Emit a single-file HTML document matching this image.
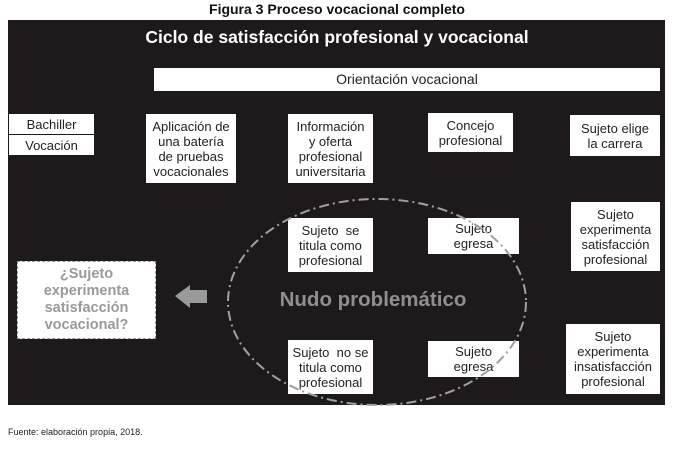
<!DOCTYPE html>
<html><head><meta charset="utf-8"><style>
body{margin:0;width:674px;height:449px;background:#fff;position:relative;font-family:"Liberation Sans",sans-serif;overflow:hidden}
.t{position:absolute;left:0;width:674px;top:1px;text-align:center;font-weight:bold;font-size:14px;color:#111}
.bg{position:absolute;left:8px;top:20px;width:657px;height:385px;background:#1e1a1c}
.b{position:absolute;background:#fff;color:#222;font-size:13px;line-height:15px;text-align:center;display:flex;align-items:center;justify-content:center;box-sizing:border-box}
</style></head><body>
<div class="t">Figura 3 Proceso vocacional completo</div>
<div class="bg"></div>
<div style="position:absolute;left:0;width:674px;top:27px;text-align:center;color:#fff;font-weight:bold;font-size:17.5px">Ciclo de satisfacción profesional y vocacional</div>
<div class="b" style="left:154px;top:68px;width:506px;height:23px;font-size:14px">Orientación vocacional</div>
<div class="b" style="left:9px;top:114px;width:85px;height:20px;font-size:13px">Bachiller</div>
<div class="b" style="left:9px;top:135px;width:85px;height:20px;font-size:13px">Vocación</div>
<div class="b" style="left:146px;top:114px;width:90px;height:69px">Aplicación de<br>una batería<br>de pruebas<br>vocacionales</div>
<div class="b" style="left:288px;top:114px;width:85px;height:69px">Información<br>y oferta<br>profesional<br>universitaria</div>
<div class="b" style="left:428px;top:113px;width:85px;height:39px">Concejo<br>profesional</div>
<div class="b" style="left:570px;top:115px;width:90px;height:41px">Sujeto elige<br>la carrera</div>
<div class="b" style="left:288px;top:218px;width:85px;height:54px">Sujeto&nbsp; se<br>titula como<br>profesional</div>
<div class="b" style="left:428px;top:218px;width:91px;height:36px">Sujeto<br>egresa</div>
<div class="b" style="left:571px;top:202px;width:89px;height:69px">Sujeto<br>experimenta<br>satisfacción<br>profesional</div>
<div class="b" style="left:288px;top:340px;width:85px;height:54px">Sujeto&nbsp; no se<br>titula como<br>profesional</div>
<div class="b" style="left:428px;top:341px;width:91px;height:36px">Sujeto<br>egresa</div>
<div class="b" style="left:566px;top:324px;width:94px;height:70px">Sujeto<br>experimenta<br>insatisfacción<br>profesional</div>
<div class="b" style="left:17px;top:261px;width:139px;height:78px;border:1px dashed #999;color:#999;font-weight:bold;font-size:14.5px;line-height:17px">¿Sujeto<br>experimenta<br>satisfacción<br>vocacional?</div>
<svg style="position:absolute;left:0;top:0" width="674" height="449">
<polygon points="175,296 190,285 190,290 207,290 207,303 190,303 190,308" fill="#9a9a9a"/>
<ellipse cx="377" cy="302" rx="149" ry="103" fill="none" stroke="#a0a0a0" stroke-width="2" stroke-dasharray="10,4,2,4"/>
<text x="373" y="306" text-anchor="middle" font-family="Liberation Sans" font-weight="bold" font-size="20.5" fill="#8f8f8f">Nudo problemático</text>
</svg>
<div style="position:absolute;left:8px;top:427px;font-size:9px;color:#222">Fuente: elaboración propia, 2018.</div>
</body></html>
